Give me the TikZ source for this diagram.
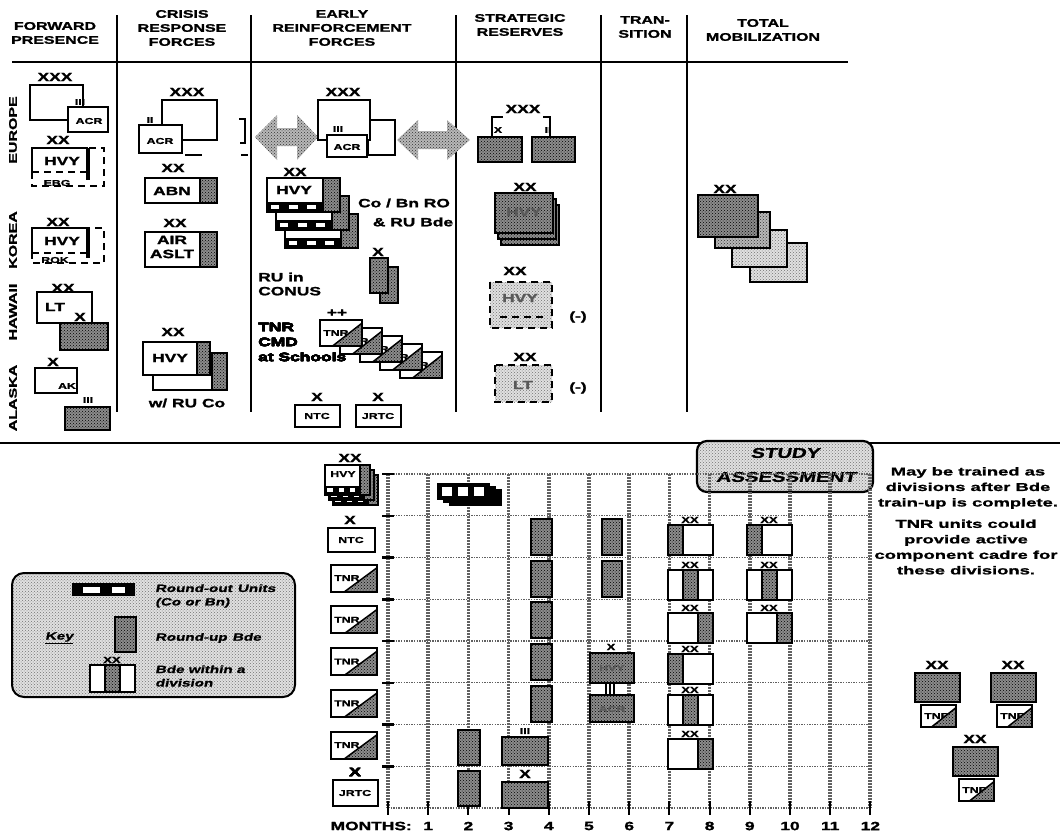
\documentclass[tikz,border=0pt]{standalone}
\usepackage{fontspec}
\setmainfont{Liberation Sans}
\newfontfamily\widefont[FakeStretch=1.45, FakeBold=1.6]{Liberation Sans Bold}
\newfontfamily\wideitfont[FakeStretch=1.45, FakeSlant=0.2, FakeBold=1.2]{Liberation Sans Bold}
\newfontfamily\notefont[FakeStretch=1.6, FakeBold=1.2]{Liberation Sans Bold}
\usepackage{tikz}
\usetikzlibrary{patterns, positioning, calc}

\newcommand{\tnrbox}[5]{%
  \draw[unit] (#2,#3) rectangle ++(#4,#5);
  \node[sml, anchor=west] (#1) at (#2+3,#3+#5/2) {TNR};
  \fill[dpat] (#2+0.3*#4,#3+#5) -- (#2+#4,#3+0.12*#5) -- (#2+#4,#3+#5) -- cycle;
  \draw[line width=1.5pt] (#2+0.3*#4,#3+#5) -- (#2+#4,#3+0.12*#5);
  \draw[edge] (#2,#3) rectangle ++(#4,#5);
}
\newcommand{\divbde}[4]{%
  \draw[unit] (#2,#3) rectangle ++(45,30);
  \fill[dpat] (#2+15*#4,#3) rectangle ++(15,30);
  \draw[edge] (#2+15*#4,#3) -- ++(0,30) (#2+15*#4+15,#3) -- ++(0,30);
  \draw[edge] (#2,#3) rectangle ++(45,30);
  \node[xsm] (#1) at (#2+22,#3-5) {XX};
}
\newcommand{\rolayer}[4]{%
  \draw[unit] (#1,#2) rectangle ++(#3,#4);
  \fill[dpat] (#1+0.77*#3,#2) rectangle (#1+#3,#2+#4);
  \fill (#1,#2+0.7*#4) rectangle (#1+0.77*#3,#2+#4);
  \foreach \c in {0,1,2} \fill[white] (#1+0.05*#3+0.25*#3*\c,#2+0.78*#4) rectangle ++(0.12*#3,0.13*#4);
  \draw[edge] (#1+0.77*#3,#2) -- ++(0,#4);
  \draw[edge] (#1,#2) rectangle ++(#3,#4);
}
\newcommand{\robar}[2]{%
  \fill (#1,#2) rectangle ++(53,17);
  \foreach \c in {0,1,2} \fill[white] (#1+5+16*\c,#2+4) rectangle ++(10,9);
}
\newcommand{\divtnr}[3]{%
  \node[xs] (#1x) at (#2+22,#3-8) {XX};
  \draw[rubox] (#2,#3) rectangle ++(45,29);
  \tnrbox{#1t}{#2+6}{#3+32}{35}{22}
}

\begin{document}
\begin{tikzpicture}[x=1pt, y=-1pt,
  unit/.style={draw, line width=2pt, fill=white},
  edge/.style={draw, line width=2pt},
  dpat/.style={preaction={fill=black!45}, pattern=crosshatch dots, pattern color=black},
  mpat/.style={preaction={fill=black!28}, pattern=crosshatch dots, pattern color=black!80},
  lpat/.style={preaction={fill=black!12}, pattern=crosshatch dots, pattern color=black!55},
  rubox/.style={dpat, draw, line width=2pt},
  dashbox/.style={draw, line width=2pt, dash pattern=on 7pt off 5pt},
  hdr/.style={font=\widefont\fontsize{11}{14}\selectfont, align=center, inner sep=0pt},
  lbl/.style={font=\widefont\fontsize{12}{14}\selectfont, align=center, inner sep=0pt},
  sml/.style={font=\widefont\fontsize{8.5}{9}\selectfont, inner sep=0pt},
  xs/.style={font=\widefont\fontsize{12}{12}\selectfont, inner sep=0pt},
  xsm/.style={font=\widefont\fontsize{9}{9}\selectfont, inner sep=0pt},
  dim/.style={text=black!65},
  note/.style={font=\notefont\fontsize{11.5}{15.5}\selectfont, align=center, inner sep=0pt},
  keytxt/.style={font=\wideitfont\fontsize{10.5}{13.5}\selectfont, align=left, anchor=west, inner sep=0pt},
  vgrid/.style={draw=black!62, line width=3.5pt, dash pattern=on 1.5pt off 1.5pt},
  hgrid/.style={draw=black!62, line width=1.4pt, dash pattern=on 1.3pt off 1.3pt},
  rule/.style={line width=2pt}]

\useasboundingbox (0,0) rectangle (1060,833);

\node[hdr] (hfp) at (55,33) {FORWARD\\PRESENCE};
\node[hdr] (hcr) at (182,28) {CRISIS\\RESPONSE\\FORCES};
\node[hdr] (her) at (342,28) {EARLY\\REINFORCEMENT\\FORCES};
\node[hdr] (hsr) at (520,25) {STRATEGIC\\RESERVES};
\node[hdr] (htr) at (645,27) {TRAN-\\SITION};
\node[hdr] (htm) at (763,30) {TOTAL\\MOBILIZATION};
\draw[rule] (12,62) -- (848,62);
\foreach \x in {117,251,456,601,687}
  \draw[rule] (\x,15) -- (\x,412);

\node[hdr, rotate=90] (eur) at (13,130) {EUROPE};
\node[hdr, rotate=90] (kor) at (13,240) {KOREA};
\node[hdr, rotate=90] (haw) at (13,312) {HAWAII};
\node[hdr, rotate=90] (ala) at (13,398) {ALASKA};

% forward presence
\node[xs] (fpxxx) at (55,77) {XXX};
\draw[unit] (30,85) rectangle (83,120);
\draw[unit] (68,107) rectangle (108,132);
\node[sml] (fpacr) at (89,121) {ACR};
\node[sml] (fpiii) at (80,102) {III};
\node[xs] (fpxx1) at (58,140) {XX};
\draw[dashbox] (32,148) rectangle (104,186);
\draw[edge] (32,172) -- (32,148) -- (88,148);
\draw[dashbox] (32,172) -- (88,172);
\draw[line width=3.5pt] (88,148) -- (88,180);
\node[lbl] (fphvy1) at (62,161) {HVY};
\node[sml] (fpebg) at (57,183) {EBG};
\node[xs] (fpxx2) at (58,222) {XX};
\draw[dashbox] (32,228) rectangle (104,263);
\draw[edge] (32,253) -- (32,228) -- (88,228);
\draw[dashbox] (32,253) -- (88,253);
\draw[line width=3.5pt] (88,228) -- (88,258);
\node[lbl] (fphvy2) at (62,241) {HVY};
\node[sml] (fprok) at (55,260) {ROK};
\node[xs] (fpxx3) at (63,288) {XX};
\draw[unit] (37,292) rectangle (92,323);
\node[lbl] (fplt) at (55,307) {LT};
\node[xs] (fpx1) at (80,317) {X};
\draw[rubox] (60,323) rectangle (108,350);
\node[xs] (fpx2) at (53,362) {X};
\draw[unit] (35,368) rectangle (77,393);
\node[sml] (fpak) at (67,386) {AK};
\node[sml] (fpiii2) at (88,400) {III};
\draw[rubox] (65,407) rectangle (110,430);

% crisis response
\node[xs] (crxxx) at (187,92) {XXX};
\draw[unit] (162,100) rectangle (217,140);
\draw[unit] (139,125) rectangle (182,153);
\node[sml] (cracr) at (160,141) {ACR};
\node[sml] (crii) at (150,120) {II};
\draw[edge] (185,155) -- (202,155);
\draw[edge] (239,119) -- (245,119) -- (245,143) -- (240,143);
\draw[edge] (241,155) -- (248,155);
\node[xs] (crxx1) at (173,168) {XX};
\draw[unit] (145,178) rectangle (217,203);
\draw[rubox] (200,178) rectangle (217,203);
\node[lbl] (crabn) at (172,191) {ABN};
\node[xs] (crxx2) at (175,223) {XX};
\draw[unit] (145,232) rectangle (217,267);
\draw[rubox] (200,232) rectangle (217,267);
\node[lbl] (craa) at (172,247) {AIR\\ASLT};
\node[xs] (crxx3) at (173,332) {XX};
\draw[unit] (153,353) rectangle (227,390);
\draw[rubox] (212,353) rectangle (227,390);
\draw[unit] (143,342) rectangle (210,375);
\draw[rubox] (197,342) rectangle (210,375);
\node[lbl] (crhvy) at (170,358) {HVY};
\node[lbl] (crru) at (187,403) {w/ RU Co};

% early reinforcement
\fill[mpat] (255,137) -- (277,115) -- (277,128) -- (297,128) -- (297,115) -- (318,137)
  -- (297,160) -- (297,146) -- (277,146) -- (277,160) -- cycle;
\fill[mpat] (397,140) -- (418,120) -- (418,131) -- (447,131) -- (447,120) -- (470,140)
  -- (447,160) -- (447,149) -- (418,149) -- (418,160) -- cycle;
\node[xs] (erxxx) at (343,92) {XXX};
\draw[unit] (368,120) rectangle (395,155);
\draw[unit] (318,100) rectangle (370,140);
\draw[unit] (327,135) rectangle (367,157);
\node[sml] (eracr) at (347,147) {ACR};
\node[sml] (eriii) at (338,129) {III};
\node[xs] (erxx) at (295,172) {XX};
\rolayer{285}{214}{73}{34}
\rolayer{276}{196}{73}{34}
\rolayer{267}{178}{73}{34}
\node[lbl] (erhvy) at (294,190) {HVY};
\node[lbl] (erro) at (404,203) {Co / Bn RO};
\node[lbl] (errub) at (413,222) {\& RU Bde};
\node[xs] (erx) at (378,252) {X};
\draw[rubox] (380,267) rectangle (398,303);
\draw[rubox] (370,258) rectangle (388,293);
\node[lbl, anchor=west, align=left] (erconus) at (258,284) {RU in\\CONUS};
\node[xs] (erpp) at (337,313) {++};
\foreach \i in {4,3,2,1,0}
  \tnrbox{tnr\i}{320+20*\i}{320+8*\i}{42}{26}
\node[lbl, anchor=west, align=left, font=\widefont\fontsize{12}{15}\selectfont] (ercmd) at (258,342) {TNR\\CMD\\at Schools};
\node[xs] (erx1) at (317,397) {X};
\draw[unit] (295,405) rectangle (340,427);
\node[sml] (erntc) at (317,416) {NTC};
\node[xs] (erx2) at (378,397) {X};
\draw[unit] (356,405) rectangle (401,427);
\node[sml] (erjrtc) at (378,416) {JRTC};

% strategic reserves
\node[xs] (srxxx) at (523,109) {XXX};
\draw[edge] (492,137) -- (492,117) -- (503,117) (543,117) -- (550,117) -- (550,137);
\draw[rubox] (478,137) rectangle (522,162);
\draw[rubox] (532,137) rectangle (575,162);
\node[sml] (srx) at (498,130) {X};
\node[sml] (srii) at (548,130) {II};
\node[xs] (srxx1) at (525,187) {XX};
\foreach \i in {2,1,0}
  \draw[rubox] (495+3*\i,193+6*\i) rectangle ++(58,40);
\node[lbl, dim] (srhvy1) at (524,212) {HVY};
\node[xs] (srxx2) at (515,271) {XX};
\fill[lpat] (490,282) rectangle (552,328);
\draw[dashbox] (490,282) rectangle (552,328);
\draw[dashbox] (500,317) -- (545,317);
\node[lbl, dim] (srhvy2) at (520,298) {HVY};
\node[lbl] (srm1) at (578,317) {(-)};
\node[xs] (srxx3) at (525,357) {XX};
\fill[lpat] (495,365) rectangle (552,402);
\draw[dashbox] (495,365) rectangle (552,402);
\node[lbl, dim] (srlt) at (523,385) {LT};
\node[lbl] (srm2) at (578,388) {(-)};

% total mobilization
\node[xs] (tmxx) at (725,189) {XX};
\draw[line width=1.5pt, lpat] (750,243) rectangle (807,282);
\draw[line width=1.5pt, lpat] (732,230) rectangle (787,267);
\draw[line width=1.5pt, mpat] (715,212) rectangle (770,248);
\draw[line width=2pt, dpat] (698,195) rectangle (758,237);

% lower part
\draw[line width=2.6pt] (0,443) -- (1060,443);
\draw[lpat, line width=2.2pt, rounded corners=10pt] (697,441) rectangle (873,492);
\node[font=\wideitfont\fontsize{14}{16}\selectfont, inner sep=0pt] (study) at (785,453) {STUDY};
\node[font=\wideitfont\fontsize{14}{16}\selectfont, inner sep=0pt] (assess) at (786,477) {ASSESSMENT};

\foreach \j in {0,...,8}
  \draw[hgrid] (388,474+41.75*\j) -- (870,474+41.75*\j);
\foreach \k in {0,...,11}
  \draw[vgrid] (388+40.2*\k,474) -- (388+40.2*\k,808);
\draw[vgrid, line width=4.5pt] (870,474) -- (870,808);
\foreach \j in {0,...,7}
  \draw[line width=2.5pt] (382,474+41.75*\j) -- (394,474+41.75*\j);
\foreach \k in {0,...,12}
  \draw[line width=2pt] (388+40.2*\k,801) -- (388+40.2*\k,815);
\foreach \k in {1,...,12}
  \node[lbl] (m\k) at (388+40.2*\k,826) {\k};
\node[lbl, anchor=east] (months) at (412,826) {MONTHS:};

% row labels
\node[xs] (rxx) at (350,458) {XX};
\rolayer{333}{475}{45}{30}
\rolayer{329}{470}{45}{30}
\rolayer{325}{465}{45}{30}
\node[sml] (rhvy) at (343,474) {HVY};
\node[xs] (rx1) at (350,520) {X};
\draw[unit] (328,528) rectangle (375,552);
\node[sml] (rntc) at (351,540) {NTC};
\foreach \j in {2,...,6}
  \tnrbox{rl\j}{331}{474+41.75*\j+7}{46}{27}
\node[xs] (rx7) at (355,772) {X};
\draw[unit] (333,780) rectangle (378,806);
\node[sml] (rjrtc) at (355,793) {JRTC};

% grid content
\robar{449}{489}
\robar{443}{486}
\robar{437}{483}
\foreach \j in {1,...,5}
  \draw[rubox] (531,474+41.75*\j+3) rectangle ++(21,36);
\foreach \j in {1,2}
  \draw[rubox] (602,474+41.75*\j+3) rectangle ++(20,36);
\foreach \j in {6,7}
  \draw[rubox] (458,474+41.75*\j+5) rectangle ++(22,35);
\node[xsm] (gx4) at (611,647) {X};
\draw[line width=1.2pt] (606,683) -- (606,695) (610,683) -- (610,695) (614,683) -- (614,695);
\draw[rubox] (590,653) rectangle (634,683);
\node[sml, dim] (ghvy) at (612,668) {HVY};
\draw[rubox] (590,695) rectangle (634,722);
\node[sml, dim] (gacr) at (612,709) {ACR};
\node[sml] (giii) at (525,731) {III};
\draw[rubox] (502,737) rectangle (548,765);
\node[xs] (gx7) at (525,774) {X};
\draw[rubox] (502,782) rectangle (548,808);

\divbde{da1}{668}{525}{0}
\divbde{db1}{747}{525}{0}
\divbde{da2}{668}{570}{1}
\divbde{db2}{747}{570}{1}
\divbde{da3}{668}{613}{2}
\divbde{db3}{747}{613}{2}
\divbde{da4}{668}{654}{0}
\divbde{da5}{668}{695}{1}
\divbde{da6}{668}{739}{2}

% notes
\node[note] (nt1) at (968,488) {May be trained as\\divisions after Bde\\train-up is complete.};
\node[note] (nt2) at (966,547) {TNR units could\\provide active\\component cadre for\\these divisions.};
\divtnr{ga}{915}{673}
\divtnr{gb}{991}{673}
\divtnr{gc}{953}{747}

% key
\draw[lpat, line width=2pt, rounded corners=12pt] (12,573) rectangle (295,697);
\fill (72,583) rectangle (135,596);
\fill[white] (83,587) rectangle (100,593);
\fill[white] (112,587) rectangle (125,593);
\node[keytxt] (k1) at (155,596) {Round-out\enspace Units\\(Co or Bn)};
\draw[rubox] (115,617) rectangle (136,652);
\node[keytxt] (k2) at (155,638) {Round-up\enspace Bde};
\node[keytxt] (key) at (45,638) {\underline{Key}};
\draw[unit] (90,665) rectangle (135,692);
\fill[dpat] (105,665) rectangle (120,692);
\draw[edge] (105,665) -- (105,692) (120,665) -- (120,692);
\draw[edge] (90,665) rectangle (135,692);
\node[xsm] (kxx) at (112,660) {XX};
\node[keytxt] (k3) at (155,676) {Bde within a\\division};
\end{tikzpicture}
\end{document}
